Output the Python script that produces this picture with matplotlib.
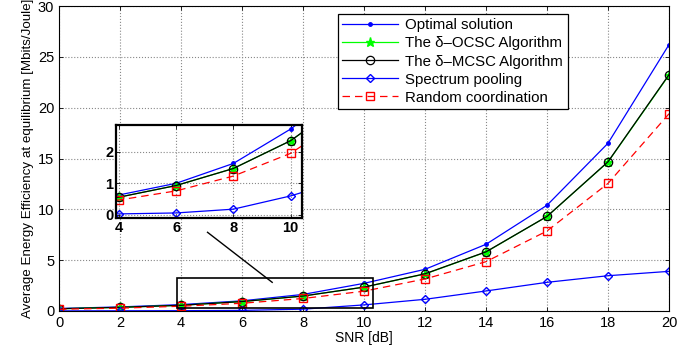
import numpy as np
import matplotlib
matplotlib.use('Agg')
import matplotlib.pyplot as plt
from matplotlib.patches import Rectangle

plt.rcParams['font.family'] = ['Liberation Sans', 'DejaVu Sans']

snr = [0, 2, 4, 6, 8, 10, 12, 14, 16, 18, 20]
optimal = [0.25, 0.40, 0.63, 1.00, 1.63, 2.72, 4.10, 6.56, 10.40, 16.50, 26.20]
ocsc = [0.22, 0.36, 0.56, 0.93, 1.47, 2.35, 3.64, 5.80, 9.30, 14.65, 23.20]
mcsc = [0.22, 0.36, 0.56, 0.93, 1.47, 2.35, 3.66, 5.82, 9.30, 14.68, 23.25]
spectrum = [0.01, 0.02, 0.03, 0.06, 0.18, 0.60, 1.15, 1.97, 2.82, 3.47, 3.90]
random_coord = [0.17, 0.28, 0.47, 0.76, 1.23, 1.95, 3.15, 4.85, 7.87, 12.55, 19.40]

labels = ['Optimal solution', 'The \u03b4\u2013OCSC Algorithm', 'The \u03b4\u2013MCSC Algorithm',
          'Spectrum pooling', 'Random coordination']


def draw_series(ax):
    ax.plot(snr, optimal, '-', color='blue', marker='.', ms=5, lw=0.9, label=labels[0])
    ax.plot(snr, ocsc, '-', color='#00ff00', marker='*', ms=6.5, lw=0.9, label=labels[1])
    ax.plot(snr, mcsc, '-', color='black', marker='o', ms=6, mfc='none', mew=0.9, lw=0.9, label=labels[2])
    ax.plot(snr, spectrum, '-', color='blue', marker='D', ms=4.5, mfc='none', lw=0.9, label=labels[3])
    ax.plot(snr, random_coord, '--', color='red', marker='s', ms=5.8, mfc='none', lw=0.9,
            dashes=(6, 4), label=labels[4])


def matlab_axes(ax, lw=0.8):
    ax.grid(True, linestyle=':', color='#888888', lw=0.8)
    ax.tick_params(direction='in', top=True, right=True, length=3, width=0.6)
    for s in ax.spines.values():
        s.set_linewidth(lw)


fig = plt.figure(figsize=(6.95, 3.49), dpi=100)
ax = fig.add_axes([59/695, 1-311/349, 610/695, 305/349])
draw_series(ax)
ax.set_xlim(0, 20)
ax.set_ylim(0, 30)
ax.set_xticks(range(0, 21, 2))
ax.set_yticks(range(0, 31, 5))
matlab_axes(ax)
ax.tick_params(labelsize=10.5)
ax.set_xlabel('SNR [dB]', fontsize=10, labelpad=1)
ax.set_ylabel('Average Energy Efficiency at equilibrium [Mbits/Joule]', fontsize=9.6, labelpad=3)

leg = ax.legend(loc='upper right', bbox_to_anchor=(0.834, 0.974), fontsize=10.8,
                fancybox=False, framealpha=1, edgecolor='black', borderpad=0.3,
                labelspacing=0.27, handlelength=3.7, handletextpad=0.5, borderaxespad=0)
leg.get_frame().set_linewidth(0.9)

ax.add_patch(Rectangle((3.88, 0.3), 10.3-3.88, 3.24-0.3, fill=False, edgecolor='black', lw=1.2, zorder=5))
ax.plot([4.87, 6.99], [7.74, 2.82], color='black', lw=1.0)

ins = fig.add_axes([116/695, 1-218/349, 186/695, 93/349])
draw_series(ins)
ins.set_xlim(3.9, 10.4)
ins.set_ylim(-0.1, 2.85)
ins.set_xticks([4, 6, 8, 10])
ins.set_yticks([0, 1, 2])
matlab_axes(ins, lw=1.6)
ins.tick_params(labelsize=10.5, pad=2)
for t in ins.get_xticklabels() + ins.get_yticklabels():
    t.set_fontweight('bold')

fig.savefig('out.png', dpi=100)
